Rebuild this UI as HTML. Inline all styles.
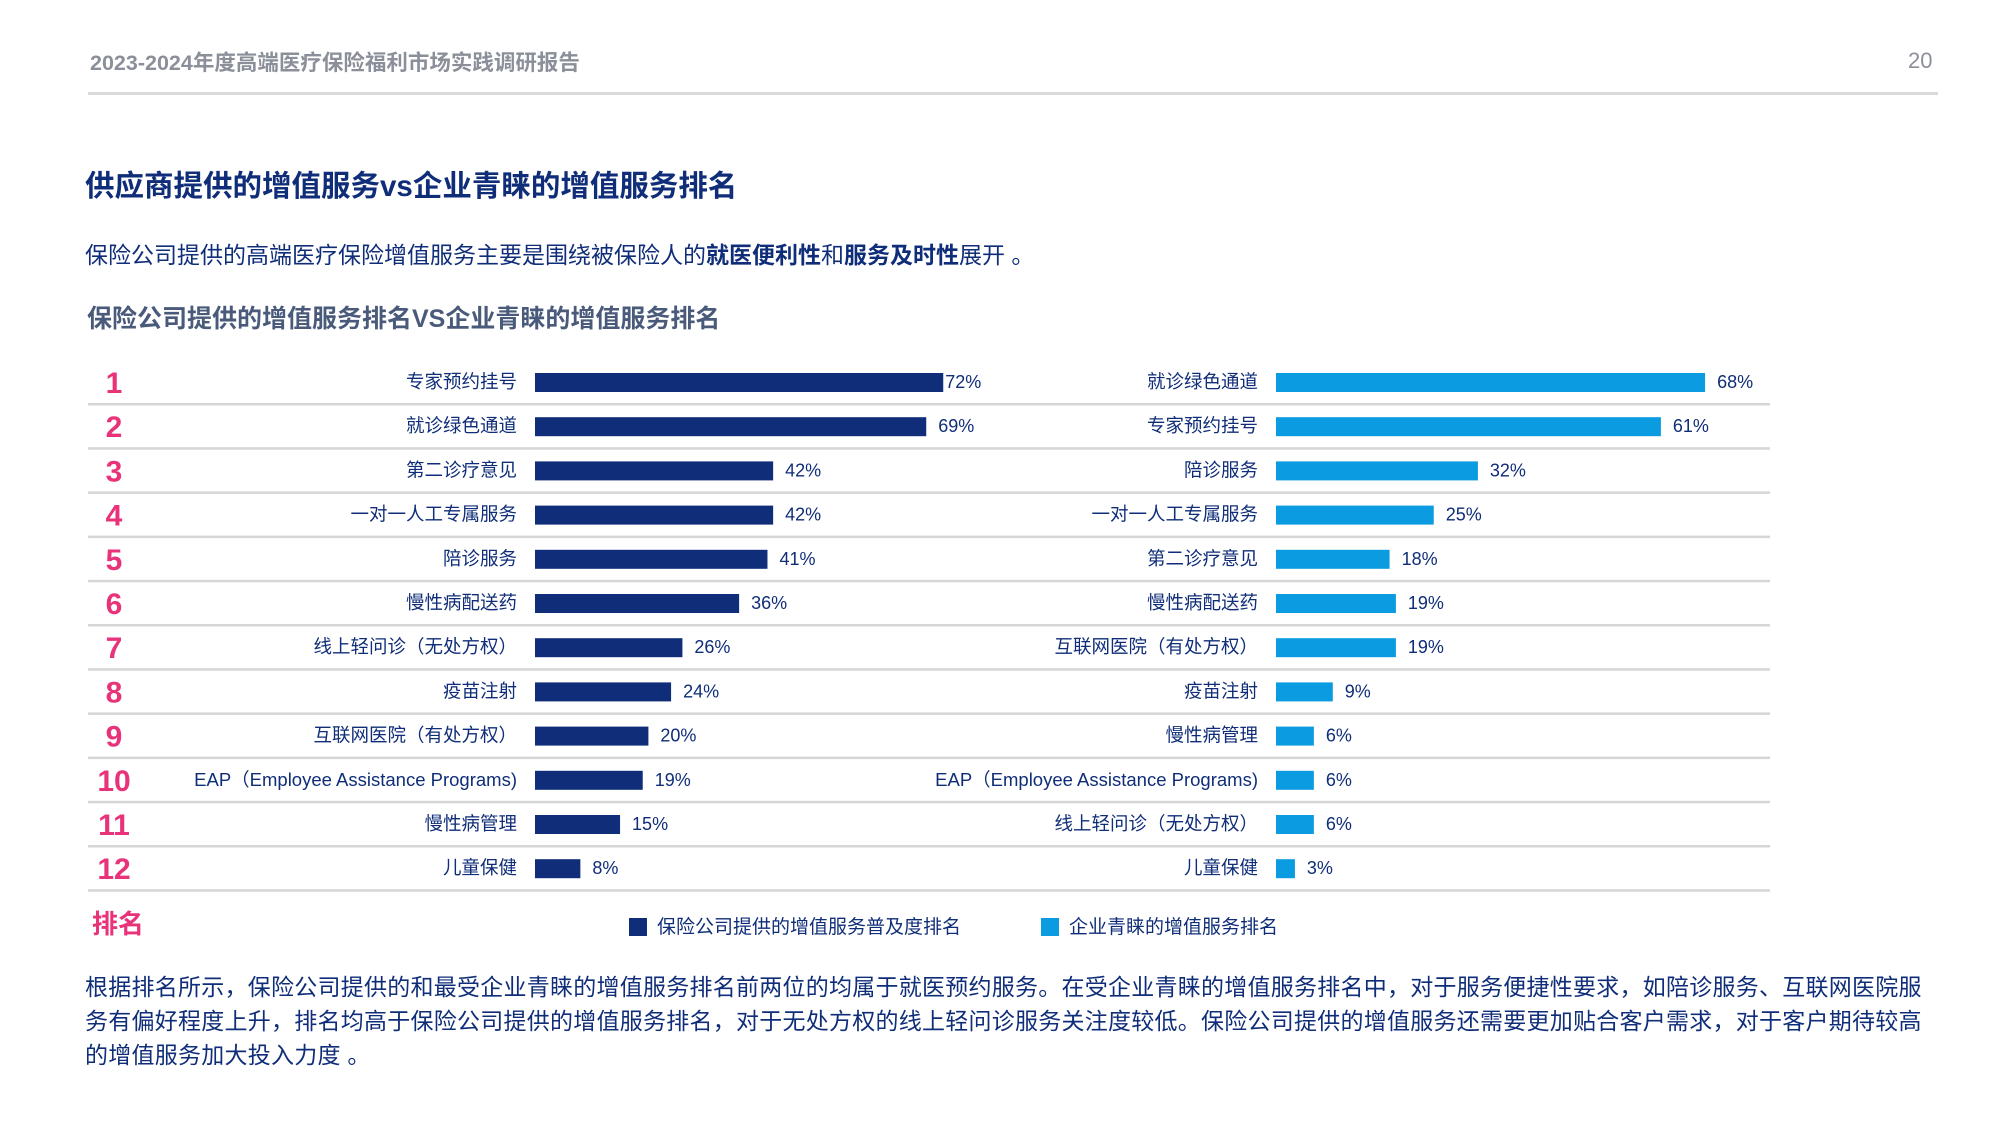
<!DOCTYPE html>
<html><head><meta charset="utf-8"><style>
body{margin:0;width:2000px;height:1125px;background:#fff;position:relative;overflow:hidden;font-family:"Liberation Sans","Noto Sans CJK SC",sans-serif}
.a{position:absolute;white-space:nowrap}
</style></head><body>
<div class="a" style="left:90px;top:46px;font-size:21.5px;color:#8a8f99;font-weight:bold">2023-2024年度高端医疗保险福利市场实践调研报告</div>
<div class="a" style="left:1908px;top:48px;font-size:22px;color:#8a8f99">20</div>
<div class="a" style="left:88px;top:92px;width:1850px;height:3px;background:#d9d9d9"></div>
<div class="a" style="left:85px;top:163px;font-size:29.5px;color:#0f2d78;font-weight:bold">供应商提供的增值服务vs企业青睐的增值服务排名</div>
<div class="a" style="left:85px;top:236px;font-size:23px;color:#0f2d78">保险公司提供的高端医疗保险增值服务主要是围绕被保险人的<b>就医便利性</b>和<b>服务及时性</b>展开 。</div>
<div class="a" style="left:87px;top:299px;font-size:25px;color:#4a5a7a;font-weight:bold">保险公司提供的增值服务排名VS企业青睐的增值服务排名</div>
<svg class="a" style="left:0;top:0" width="2000" height="1125" id="chart"></svg>
<div class="a" style="left:92px;top:904px;font-size:26px;color:#e8337a;font-weight:bold">排名</div>
<div class="a" style="left:629px;top:912px;font-size:19px;color:#0f2d78"><span style="display:inline-block;width:18px;height:18px;background:#0f2d78;vertical-align:-3px;margin-right:10px"></span>保险公司提供的增值服务普及度排名</div>
<div class="a" style="left:1041px;top:912px;font-size:19px;color:#0f2d78"><span style="display:inline-block;width:18px;height:18px;background:#0a9be0;vertical-align:-3px;margin-right:10px"></span>企业青睐的增值服务排名</div>
<div class="a" style="left:85px;top:970px;width:1850px;white-space:normal;font-size:23px;letter-spacing:0.25px;line-height:34px;color:#0f2d78">根据排名所示，保险公司提供的和最受企业青睐的增值服务排名前两位的均属于就医预约服务。在受企业青睐的增值服务排名中，对于服务便捷性要求，如陪诊服务、互联网医院服务有偏好程度上升，排名均高于保险公司提供的增值服务排名，对于无处方权的线上轻问诊服务关注度较低。保险公司提供的增值服务还需要更加贴合客户需求，对于客户期待较高的增值服务加大投入力度 。</div>
<script>
const leftLabels=["专家预约挂号","就诊绿色通道","第二诊疗意见","一对一人工专属服务","陪诊服务","慢性病配送药","线上轻问诊（无处方权）","疫苗注射","互联网医院（有处方权）","EAP（Employee Assistance Programs)","慢性病管理","儿童保健"];
const leftValues=[72,69,42,42,41,36,26,24,20,19,15,8];
const rightLabels=["就诊绿色通道","专家预约挂号","陪诊服务","一对一人工专属服务","第二诊疗意见","慢性病配送药","互联网医院（有处方权）","疫苗注射","慢性病管理","EAP（Employee Assistance Programs)","线上轻问诊（无处方权）","儿童保健"];
const rightValues=[68,61,32,25,18,19,19,9,6,6,6,3];
const NS="http://www.w3.org/2000/svg",svg=document.getElementById('chart');
const rowY=i=>382+i*44.2;
const xL=v=>535+v*5.67, xR=v=>1276+v*6.31;
function mk(t,a,txt){const e=document.createElementNS(NS,t);for(const k in a)e.setAttribute(k,a[k]);if(txt!=null)e.textContent=txt;svg.appendChild(e);return e;}
for(let i=0;i<12;i++){
 const y=rowY(i);
 const ln=mk('rect',{x:88,y:y+21,width:1682,height:2.5,fill:'#d6d6d6'});
 
 const r=mk('text',{x:114,y:y+11,'font-size':30,'font-weight':'bold',fill:'#e8337a','text-anchor':'middle','font-family':'Liberation Sans'},String(i+1));
 
 const l1=mk('text',{x:517,y:y+6,'font-size':18.5,fill:'#0f2d78','text-anchor':'end'},leftLabels[i]);
 
 const b1=mk('rect',{x:xL(0),y:y-9,width:xL(leftValues[i])-xL(0),height:19,fill:'#0f2d78'});
 
 const v1=mk('text',{x:xL(leftValues[i])+(i==0?2:12),y:y+6,'font-size':18,fill:'#0f2d78'},leftValues[i]+'%');
 
 const l2=mk('text',{x:1258,y:y+6,'font-size':18.5,fill:'#0f2d78','text-anchor':'end'},rightLabels[i]);
 
 const b2=mk('rect',{x:xR(0),y:y-9,width:xR(rightValues[i])-xR(0),height:19,fill:'#0a9be0'});
 
 const v2=mk('text',{x:xR(rightValues[i])+12,y:y+6,'font-size':18,fill:'#0f2d78'},rightValues[i]+'%');
 
}
</script>
</body></html>
